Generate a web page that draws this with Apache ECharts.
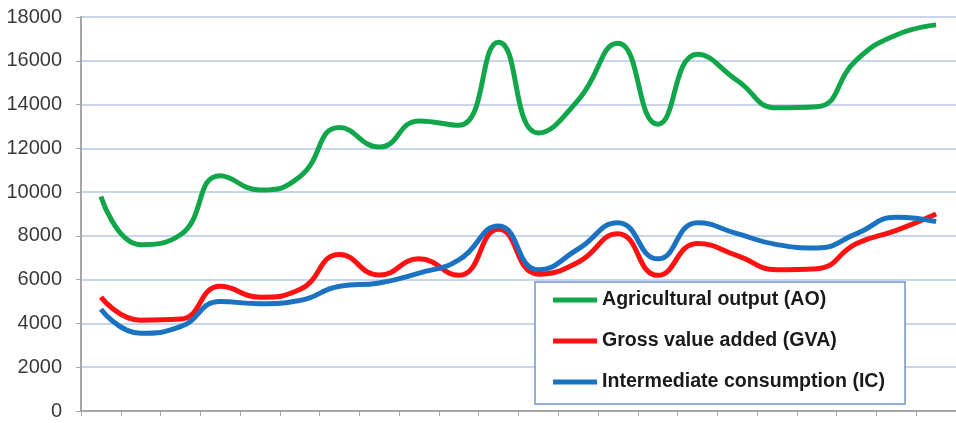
<!DOCTYPE html>
<html>
<head>
<meta charset="utf-8">
<script src="https://cdn.jsdelivr.net/npm/echarts@6/dist/echarts.min.js"></script>
<style>
html,body{margin:0;padding:0;background:#fff;}
#chart{width:956px;height:423px;}
</style>
</head>
<body>
<div id="chart"></div>
<script>
var categories = ['1','2','3','4','5','6','7','8','9','10','11','12','13','14','15','16','17','18','19','20','21','22'];
var seriesNames = ['Agricultural output (AO)', 'Gross value added (GVA)', 'Intermediate consumption (IC)'];
var aoValues  = [9800, 7600, 8050, 10750, 10100, 10700, 12950, 12060, 13250, 13050, 16850, 12700, 14200, 16800, 13100, 16300, 15100, 13850, 13900, 16040, 17180, 17640];
var gvaValues = [5200, 4150, 4200, 5700, 5200, 5550, 7150, 6210, 6950, 6200, 8300, 6250, 6800, 8100, 6200, 7650, 7100, 6450, 6500, 7650, 8250, 9000];
var icValues  = [4650, 3550, 3850, 5000, 4900, 5050, 5700, 5850, 6300, 6900, 8450, 6450, 7400, 8600, 6950, 8600, 8100, 7600, 7450, 8100, 8850, 8650];
var yTicks = { min: 0, max: 18000, interval: 2000 };

var colors = ['#12a64a', '#ff1111', '#1b72c0'];
var chart = echarts.init(document.getElementById('chart'), null, {renderer: 'canvas'});
function mk(name, data, color) {
  return {
    name: name, type: 'line', data: data, smooth: 0.5,
    showSymbol: false, symbol: 'none',
    lineStyle: { width: 5, color: color },
    itemStyle: { color: color },
    emphasis: { disabled: true }
  };
}
chart.setOption({
  animation: false,
  backgroundColor: '#ffffff',
  grid: { left: 81, top: 17, width: 880, height: 394, containLabel: false },
  xAxis: {
    type: 'category', data: categories, boundaryGap: true,
    axisLine: { show: true, lineStyle: { color: '#a6a6a6', width: 2 } },
    axisTick: { show: true, alignWithLabel: false, length: 5, lineStyle: { color: '#a6a6a6', width: 1 } },
    axisLabel: { show: false },
    splitLine: { show: false }
  },
  yAxis: {
    type: 'value', min: yTicks.min, max: yTicks.max, interval: yTicks.interval,
    axisLine: { show: true, lineStyle: { color: '#a6a6a6', width: 2 } },
    axisTick: { show: true, length: 5, lineStyle: { color: '#a6a6a6', width: 1 } },
    axisLabel: { show: true, margin: 19, color: '#3a3a3a', fontFamily: 'Liberation Sans', fontSize: 20,
      formatter: function (v) { return String(v); } },
    splitLine: { show: true, lineStyle: { color: '#c9d5f0', width: 2 } }
  },
  legend: {
    show: true, orient: 'vertical', left: 535, top: 282,
    data: seriesNames,
    backgroundColor: '#ffffff',
    borderColor: '#6f96cc', borderWidth: 1.5,
    padding: [8, 20, 12, 18],
    itemGap: 21,
    itemWidth: 44, itemHeight: 5,
    icon: 'rect',
    textStyle: { color: '#1a1a1a', fontFamily: 'Liberation Sans', fontWeight: 'bold', fontSize: 19.6, lineHeight: 20 }
  },
  series: [
    mk(seriesNames[0], aoValues, colors[0]),
    mk(seriesNames[1], gvaValues, colors[1]),
    mk(seriesNames[2], icValues, colors[2])
  ]
});
</script>
</body>
</html>
